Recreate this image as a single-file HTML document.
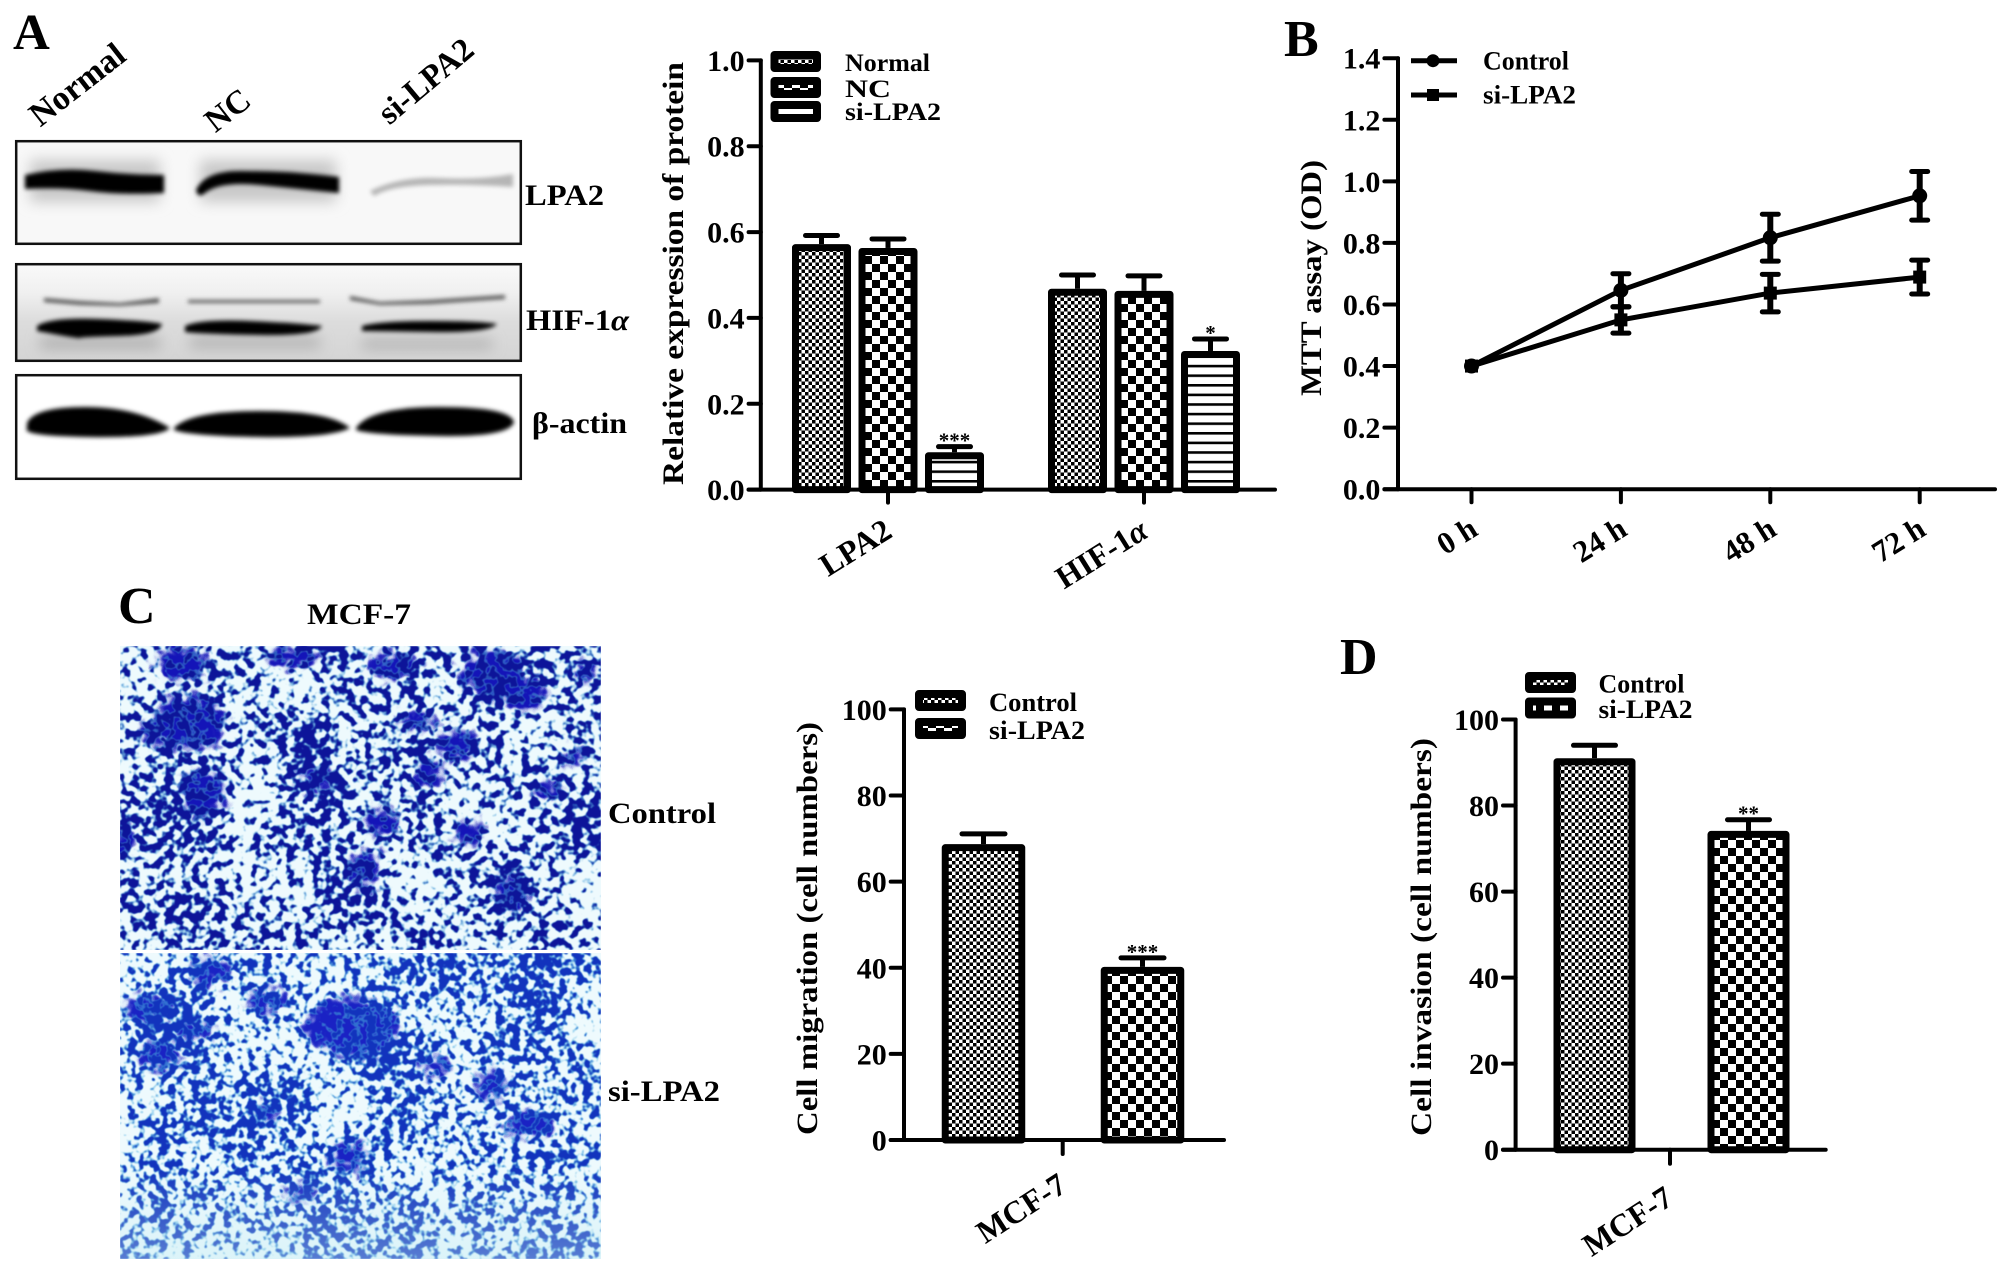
<!DOCTYPE html>
<html lang="en">
<head>
<meta charset="utf-8">
<title>LPA2 knockdown figure</title>
<style>
html,body{margin:0;padding:0;background:#fff;}
svg{display:block;}
text{font-family:"Liberation Serif",serif;font-weight:bold;fill:#000;}
</style>
</head>
<body>
<svg id="fig" width="2008" height="1272" viewBox="0 0 2008 1272" xmlns="http://www.w3.org/2000/svg">
<defs>
  <pattern id="smallCheck" width="7" height="7" patternUnits="userSpaceOnUse"><rect width="7" height="7" fill="#fff"/><rect width="3.5" height="3.5" fill="#000"/><rect x="3.5" y="3.5" width="3.5" height="3.5" fill="#000"/></pattern>
  <pattern id="bigCheck" width="16" height="16" patternUnits="userSpaceOnUse"><rect width="16" height="16" fill="#fff"/><rect width="8" height="8" fill="#000"/><rect x="8" y="8" width="8" height="8" fill="#000"/></pattern>
  <pattern id="stripes" width="10" height="9.6" patternUnits="userSpaceOnUse"><rect width="10" height="9.6" fill="#fff"/><rect y="0" width="10" height="2.6" fill="#000"/></pattern>
  <filter id="b2" x="-20%" y="-60%" width="140%" height="220%"><feGaussianBlur stdDeviation="2.2"/></filter>
  <filter id="b4" x="-20%" y="-100%" width="140%" height="300%"><feGaussianBlur stdDeviation="7"/></filter>
  <filter id="rough" x="-10%" y="-10%" width="120%" height="120%" color-interpolation-filters="sRGB">
    <feGaussianBlur in="SourceGraphic" stdDeviation="3" result="soft"/>
    <feTurbulence type="fractalNoise" baseFrequency="0.09" numOctaves="2" seed="3" result="warp"/>
    <feDisplacementMap in="soft" in2="warp" scale="26" xChannelSelector="R" yChannelSelector="G"/>
  </filter>
  <filter id="cellsA" x="0" y="0" width="100%" height="100%" color-interpolation-filters="sRGB">
    <feTurbulence type="fractalNoise" baseFrequency="0.115" numOctaves="2" seed="11" result="n1"/>
    <feColorMatrix in="n1" type="matrix" values="1 0 0 0 0  1 0 0 0 0  1 0 0 0 0  0 0 0 0 1" result="hi"/>
    <feTurbulence type="fractalNoise" baseFrequency="0.014" numOctaves="2" seed="5" result="n2"/>
    <feColorMatrix in="n2" type="matrix" values="1 0 0 0 0  1 0 0 0 0  1 0 0 0 0  0 0 0 0 1" result="lo"/>
    <feComposite in="hi" in2="lo" operator="arithmetic" k1="0" k2="0.85" k3="0.35" k4="-0.05" result="mix"/>
    <feColorMatrix in="mix" type="matrix" values="0 0 0 0 0.28  0 0 0 0 0.62  0 0 0 0 0.85  12 0 0 0 -6.2" result="fringe"/>
    <feColorMatrix in="mix" type="matrix" values="0 0 0 0 0.05  0 0 0 0 0.08  0 0 0 0 0.60  14 0 0 0 -7.85" result="dark"/>
    <feMerge result="m"><feMergeNode in="fringe"/><feMergeNode in="dark"/></feMerge>
    <feGaussianBlur in="m" stdDeviation="0.6"/>
  </filter>
  <filter id="cellsB" x="0" y="0" width="100%" height="100%" color-interpolation-filters="sRGB">
    <feTurbulence type="fractalNoise" baseFrequency="0.125" numOctaves="2" seed="29" result="n1"/>
    <feColorMatrix in="n1" type="matrix" values="1 0 0 0 0  1 0 0 0 0  1 0 0 0 0  0 0 0 0 1" result="hi"/>
    <feTurbulence type="fractalNoise" baseFrequency="0.014" numOctaves="2" seed="17" result="n2"/>
    <feColorMatrix in="n2" type="matrix" values="1 0 0 0 0  1 0 0 0 0  1 0 0 0 0  0 0 0 0 1" result="lo"/>
    <feComposite in="hi" in2="lo" operator="arithmetic" k1="0" k2="0.85" k3="0.35" k4="-0.05" result="mix"/>
    <feColorMatrix in="mix" type="matrix" values="0 0 0 0 0.30  0 0 0 0 0.68  0 0 0 0 0.88  12 0 0 0 -6.2" result="fringe"/>
    <feColorMatrix in="mix" type="matrix" values="0 0 0 0 0.07  0 0 0 0 0.20  0 0 0 0 0.74  14 0 0 0 -7.85" result="dark"/>
    <feMerge result="m"><feMergeNode in="fringe"/><feMergeNode in="dark"/></feMerge>
    <feGaussianBlur in="m" stdDeviation="0.6"/>
  </filter>
  <clipPath id="clipGel1"><rect x="15" y="140" width="507" height="105"/></clipPath>
  <clipPath id="clipGel2"><rect x="15" y="263" width="507" height="99"/></clipPath>
  <clipPath id="clipGel3"><rect x="15" y="374" width="507" height="106"/></clipPath>
  <clipPath id="clipPhotoA"><rect x="120" y="646" width="481" height="304"/></clipPath>
  <clipPath id="clipPhotoB"><rect x="120" y="953" width="481" height="306"/></clipPath>
  <linearGradient id="fadeCyan" x1="0" y1="0" x2="0" y2="1"><stop offset="0.7" stop-color="#bfe9f2" stop-opacity="0"/><stop offset="1" stop-color="#bfe9f2" stop-opacity="0.4"/></linearGradient>
  <linearGradient id="gelHif" x1="0" y1="0" x2="0" y2="1"><stop offset="0" stop-color="#fafafa"/><stop offset="0.3" stop-color="#f0f0f0"/><stop offset="0.6" stop-color="#dcdcdc"/><stop offset="1" stop-color="#d4d4d4"/></linearGradient>
</defs>

<rect width="2008" height="1272" fill="#fff"/>

<text x="13" y="49" font-size="51">A</text>
<text x="1284" y="56" font-size="52">B</text>
<text x="118" y="623" font-size="52">C</text>
<text x="1340" y="674" font-size="52">D</text>

<text transform="rotate(-38 128 59)" x="128" y="59" font-size="34" text-anchor="end">Normal</text>
<text transform="rotate(-38 253 104)" x="253" y="104" font-size="33" text-anchor="end">NC</text>
<text transform="rotate(-40 476 53)" x="476" y="53" font-size="33" text-anchor="end">si-LPA2</text>

<g>
  <rect x="15" y="140" width="507" height="105" fill="#f8f8f8"/>
  <g clip-path="url(#clipGel1)">
    <g filter="url(#b4)" fill="#c8c8c8"><rect x="30" y="160" width="130" height="42"/><rect x="200" y="160" width="136" height="42"/></g>
    <g filter="url(#b2)">
      <path d="M25 175Q60 167 95 171T164 175L164 193Q120 195 90 191T25 189Z" fill="#000"/>
      <path d="M196 190Q205 171 240 171T300 173T339 177L339 193Q300 189 260 185T205 193Q198 199 196 190Z" fill="#000"/>
      <path d="M370 191Q400 176 440 178T513 174L513 187Q470 184 430 185T374 196Z" fill="#b5b5b5"/>
    </g>
  </g>
  <rect x="16.2" y="141.2" width="504.6" height="102.6" fill="none" stroke="#111" stroke-width="2.5"/>
</g>
<g>
  <rect x="15" y="263" width="507" height="99" fill="url(#gelHif)"/>
  <g clip-path="url(#clipGel2)">
    <g filter="url(#b4)" fill="#a8a8a8"><rect x="40" y="338" width="120" height="10"/><rect x="190" y="338" width="130" height="9"/><rect x="362" y="340" width="130" height="8"/></g>
    <g filter="url(#b2)" fill="#555"><path d="M44 298L80 301L120 303L159 298L159 303L120 306L80 305L44 302Z"/><rect x="188" y="300" width="132" height="3"/><path d="M350 296L380 302L430 300L505 295L505 299L430 304L380 305L350 300Z"/></g>
    <g filter="url(#b2)" fill="#000">
      <path d="M37 326Q50 317 100 319T162 324Q160 335 120 336T80 338T37 331Z"/>
      <path d="M185 326Q200 319 250 321T322 326Q318 336 260 335T185 332Z"/>
      <path d="M362 326Q380 321 430 321T497 324Q490 333 430 332T362 331Z"/>
    </g>
  </g>
  <rect x="16.2" y="264.2" width="504.6" height="96.6" fill="none" stroke="#111" stroke-width="2.5"/>
</g>
<g>
  <rect x="15" y="374" width="507" height="106" fill="#fff"/>
  <g clip-path="url(#clipGel3)">
    <g filter="url(#b2)" fill="#000">
      <path d="M27 423Q34 407 85 407T170 428Q160 438 90 437T27 428Z"/>
      <path d="M174 428Q190 411 260 411T350 428Q330 438 260 437T174 430Z"/>
      <path d="M356 428Q370 407 440 407T514 422Q510 437 440 436T356 430Z"/>
    </g>
  </g>
  <rect x="16.2" y="375.2" width="504.6" height="103.6" fill="none" stroke="#111" stroke-width="2.5"/>
</g>

<text x="525" y="205" font-size="30" textLength="79" lengthAdjust="spacingAndGlyphs">LPA2</text>
<text x="526" y="330" font-size="30" textLength="103" lengthAdjust="spacingAndGlyphs">HIF-1<tspan font-style="italic">α</tspan></text>
<text x="532" y="433" font-size="30" textLength="95" lengthAdjust="spacingAndGlyphs">β-actin</text>

<text x="307" y="624" font-size="30" textLength="104" lengthAdjust="spacingAndGlyphs">MCF-7</text>

<g>
  <rect x="120" y="646" width="481" height="304" fill="#eefafd"/>
  <g clip-path="url(#clipPhotoA)">
    <g fill="#1414b8" filter="url(#rough)">
      <ellipse cx="182" cy="664" rx="26" ry="16"/><ellipse cx="190" cy="722" rx="36" ry="26"/><ellipse cx="161" cy="731" rx="20" ry="14"/>
      <ellipse cx="296" cy="657" rx="28" ry="10"/><ellipse cx="394" cy="666" rx="24" ry="14"/><ellipse cx="492" cy="673" rx="32" ry="24"/>
      <ellipse cx="524" cy="691" rx="22" ry="18"/><ellipse cx="418" cy="722" rx="18" ry="8"/><ellipse cx="316" cy="780" rx="14" ry="12"/>
      <ellipse cx="382" cy="823" rx="16" ry="14"/><ellipse cx="471" cy="834" rx="12" ry="12"/><ellipse cx="365" cy="870" rx="16" ry="18"/>
      <ellipse cx="512" cy="892" rx="18" ry="18"/><ellipse cx="573" cy="758" rx="10" ry="9"/><ellipse cx="549" cy="790" rx="14" ry="8"/>
      <ellipse cx="202" cy="794" rx="22" ry="24"/><ellipse cx="124" cy="839" rx="12" ry="14"/><ellipse cx="459" cy="745" rx="20" ry="14"/>
      <ellipse cx="430" cy="772" rx="14" ry="12"/><ellipse cx="586" cy="673" rx="10" ry="9"/>
    </g>
    <rect x="120" y="646" width="481" height="304" filter="url(#cellsA)"/>
  </g>
</g>
<g>
  <rect x="120" y="953" width="481" height="306" fill="#eefafd"/>
  <g clip-path="url(#clipPhotoB)">
    <g fill="#1a22c4" filter="url(#rough)">
      <ellipse cx="353" cy="1027" rx="46" ry="30"/><ellipse cx="210" cy="971" rx="20" ry="14"/><ellipse cx="149" cy="1009" rx="24" ry="14"/>
      <ellipse cx="267" cy="1000" rx="18" ry="12"/><ellipse cx="161" cy="1054" rx="22" ry="14"/><ellipse cx="435" cy="1067" rx="12" ry="10"/>
      <ellipse cx="492" cy="1085" rx="16" ry="14"/><ellipse cx="267" cy="1112" rx="12" ry="8"/><ellipse cx="349" cy="1157" rx="16" ry="16"/>
      <ellipse cx="529" cy="1125" rx="24" ry="12"/><ellipse cx="300" cy="1192" rx="16" ry="8"/><ellipse cx="194" cy="1031" rx="18" ry="10"/>
    </g>
    <rect x="120" y="953" width="481" height="306" filter="url(#cellsB)"/>
    <rect x="120" y="953" width="481" height="306" fill="url(#fadeCyan)"/>
  </g>
</g>

<text x="608" y="823" font-size="30" textLength="108" lengthAdjust="spacingAndGlyphs">Control</text>
<text x="608" y="1101" font-size="30" textLength="112" lengthAdjust="spacingAndGlyphs">si-LPA2</text>

<text transform="rotate(-90 683 273.5)" x="683" y="273.5" font-size="30" text-anchor="middle" textLength="423" lengthAdjust="spacingAndGlyphs">Relative expression of protein</text>
<text transform="rotate(-90 1321 278)" x="1321" y="278" font-size="30" text-anchor="middle" textLength="236" lengthAdjust="spacingAndGlyphs">MTT assay (OD)</text>
<text transform="rotate(-90 817 928.5)" x="817" y="928.5" font-size="30" text-anchor="middle" textLength="413" lengthAdjust="spacingAndGlyphs">Cell migration (cell numbers)</text>
<text transform="rotate(-90 1431 937)" x="1431" y="937" font-size="30" text-anchor="middle" textLength="398" lengthAdjust="spacingAndGlyphs">Cell invasion (cell numbers)</text>

<g id="charts"></g>
</svg>

<script>
// ---- Panel A bar chart data ----
const aCategories = ['LPA2', 'HIF-1α'];
const aTicks = ['0.0', '0.2', '0.4', '0.6', '0.8', '1.0'];
const aLegend = ['Normal', 'NC', 'si-LPA2'];
const aNormal = [0.572, 0.468];
const aNormalErr = [0.020, 0.032];
const aNC = [0.563, 0.463];
const aNCErr = [0.021, 0.035];
const aSi = [0.087, 0.323];
const aSiErr = [0.013, 0.028];
const aSiStars = ['***', '*'];

// ---- Panel B line chart data ----
const bCategories = ['0 h', '24 h', '48 h', '72 h'];
const bTicks = ['0.0', '0.2', '0.4', '0.6', '0.8', '1.0', '1.2', '1.4'];
const bLegend = ['Control', 'si-LPA2'];
const bControl = [0.40, 0.646, 0.817, 0.953];
const bControlErr = [0, 0.054, 0.076, 0.079];
const bSi = [0.40, 0.55, 0.637, 0.689];
const bSiErr = [0, 0.043, 0.061, 0.055];

// ---- Panel C bar chart data ----
const cCategory = ['MCF-7'];
const cTicks = ['0', '20', '40', '60', '80', '100'];
const cLegend = ['Control', 'si-LPA2'];
const cValues = [68.7, 40.2];
const cErrors = [2.4, 2.1];
const cStars = ['', '***'];

// ---- Panel D bar chart data ----
const dCategory = ['MCF-7'];
const dTicks = ['0', '20', '40', '60', '80', '100'];
const dLegend = ['Control', 'si-LPA2'];
const dValues = [91, 74.1];
const dErrors = [3, 2.6];
const dStars = ['', '**'];

const NS = 'http://www.w3.org/2000/svg';
const root = document.getElementById('charts');

function make(tag, attrs, parent) {
  const n = document.createElementNS(NS, tag);
  for (const k in attrs) n.setAttribute(k, attrs[k]);
  parent.appendChild(n);
  return n;
}
function linear(d0, d1, r0, r1) {
  return function (v) { return r0 + (v - d0) * (r1 - r0) / (d1 - d0); };
}
function drawText(parent, str, x, y, size, anchor, name, angle, lengthPx) {
  const attrs = { x: x, y: y, 'font-size': size, 'text-anchor': anchor };
  if (angle) attrs.transform = 'rotate(' + angle + ' ' + x + ' ' + y + ')';
  if (lengthPx) { attrs.textLength = lengthPx; attrs.lengthAdjust = 'spacingAndGlyphs'; }
  const t = make('text', attrs, parent);
  
  
  const greek = str.indexOf('α');
  if (greek >= 0) {
    t.appendChild(document.createTextNode(str.slice(0, greek)));
    const ts = make('tspan', { 'font-style': 'italic' }, t);
    ts.textContent = 'α';
  } else {
    t.textContent = str;
  }
  return t;
}
function drawAxes(parent, prefix, o) {
  const g = make('g', { stroke: '#000', 'stroke-width': 4, fill: 'none', 'stroke-linecap': 'round' }, parent);
  
  
  const yLine = make('line', { x1: o.axisX, x2: o.axisX, y1: o.y(o.yMax), y2: o.y(0) }, g);
  
  
  const xLine = make('line', { x1: o.tickLeft, x2: o.axisRight, y1: o.y(0), y2: o.y(0) }, g);
  
  
  o.ticks.forEach(function (label) {
    const v = parseFloat(label);
    const tick = make('line', { x1: o.tickLeft, x2: o.axisX, y1: o.y(v), y2: o.y(v) }, g);
    
    
    drawText(parent, label, o.tickLeft - 4, o.y(v) + 10.5, 30, 'end', prefix + '-y-tick-label', 0, 0);
  });
  o.categories.forEach(function (label, i) {
    const cx = o.x(i);
    const tick = make('line', { x1: cx, x2: cx, y1: o.y(0), y2: o.y(0) + o.tickDown }, g);
    
    
    drawText(parent, label, cx + o.labelDx, o.labelY, o.labelSize, 'end', prefix + '-x-tick-label', o.labelAngle, 0);
  });
}
function drawBar(parent, prefix, centerX, barW, value, err, y, patternId, capW, stars) {
  const top = y(value), base = y(0), errTop = y(value + err);
  const eb = make('line', { x1: centerX, x2: centerX, y1: top, y2: errTop, stroke: '#000', 'stroke-width': 5 }, parent);
  
  
  const cap = make('line', { x1: centerX - capW / 2, x2: centerX + capW / 2, y1: errTop, y2: errTop, stroke: '#000', 'stroke-width': 5, 'stroke-linecap': 'round' }, parent);
  
  
  const bar = make('rect', { x: centerX - barW / 2 + 3.5, y: top + 3.5, width: barW - 7, height: base - top - 3.5, fill: 'url(#' + patternId + ')', stroke: '#000', 'stroke-width': 7, 'stroke-linejoin': 'round' }, parent);
  
  
  if (stars) {
    drawText(parent, stars, centerX, errTop + 1, 21, 'middle', prefix + '-significance', 0, 0);
  }
}
function drawSwatch(parent, prefix, x, y, w, h, patternId) {
  const s = make('rect', { x: x + 4, y: y + 4, width: w - 8, height: h - 8, fill: 'url(#' + patternId + ')', stroke: '#000', 'stroke-width': 8, 'stroke-linejoin': 'round' }, parent);
  
  
}

// Panel A
(function () {
  const g = make('g', {}, root);
  
  
  const y = linear(0, 1, 489.6, 60.4);
  const x = function (i) { return 888 + i * 256; };
  const series = [
    [aNormal, aNormalErr, 'smallCheck', -66.5, 'normal'],
    [aNC, aNCErr, 'bigCheck', 0, 'nc'],
    [aSi, aSiErr, 'stripes', 66.5, 'si-lpa2']
  ];
  series.forEach(function (s) {
    s[0].forEach(function (v, i) {
      const stars = s[4] === 'si-lpa2' ? aSiStars[i] : '';
      drawBar(g, 'panel-a-' + s[4], x(i) + s[3], 59, v, s[1][i], y, s[2], 32, stars);
    });
  });
  drawAxes(g, 'panel-a', { axisX: 760.8, tickLeft: 748.6, axisRight: 1275, y: y, yMax: 1, ticks: aTicks, categories: aCategories, x: x, tickDown: 13, labelDx: 6, labelY: 536, labelSize: 32, labelAngle: -32 });
  const swatchY = [51, 77, 101];
  const labelY = [71, 97, 120];
  const widths = [85, 46, 96];
  const pats = ['smallCheck', 'bigCheck', 'stripes'];
  aLegend.forEach(function (name, i) {
    drawSwatch(g, 'panel-a-' + name.toLowerCase(), 770.5, swatchY[i], 50.5, 21, pats[i]);
    drawText(g, name, 845, labelY[i], 25, 'start', 'panel-a-legend-label', 0, widths[i]);
  });
})();

// Panel B
(function () {
  const g = make('g', {}, root);
  
  
  const y = linear(0, 1.4, 489.2, 58.2);
  const x = function (i) { return 1471.5 + i * 149.4; };
  function drawSeries(values, errs, kind, prefix) {
    const pts = values.map(function (v, i) { return x(i) + ',' + y(v); }).join(' ');
    const line = make('polyline', { points: pts, fill: 'none', stroke: '#000', 'stroke-width': 5 }, g);
    
    
    values.forEach(function (v, i) {
      const cx = x(i), cy = y(v), hi = y(v + errs[i]), lo = y(v - errs[i]);
      if (errs[i] > 0) {
        const eb = make('line', { x1: cx, x2: cx, y1: hi, y2: lo, stroke: '#000', 'stroke-width': 6 }, g);
        
        
        [hi, lo].forEach(function (cy2) {
          const cap = make('line', { x1: cx - 8, x2: cx + 8, y1: cy2, y2: cy2, stroke: '#000', 'stroke-width': 5, 'stroke-linecap': 'round' }, g);
          
          
        });
      }
      let m;
      if (kind === 'circle') m = make('circle', { cx: cx, cy: cy, r: 7.5, fill: '#000' }, g);
      else m = make('rect', { x: cx - 6.5, y: cy - 6.5, width: 13, height: 13, fill: '#000' }, g);
      
      
    });
  }
  drawAxes(g, 'panel-b', { axisX: 1398, tickLeft: 1384.4, axisRight: 1995, y: y, yMax: 1.4, ticks: bTicks, categories: bCategories, x: x, tickDown: 13, labelDx: 8, labelY: 534, labelSize: 31, labelAngle: -32 });
  drawSeries(bControl, bControlErr, 'circle', 'panel-b-control');
  drawSeries(bSi, bSiErr, 'square', 'panel-b-si-lpa2');
  const legY = [60.7, 95];
  const legLabelY = [69.6, 103.6];
  const legW = [86, 93];
  bLegend.forEach(function (name, i) {
    const l = make('line', { x1: 1411, x2: 1457, y1: legY[i], y2: legY[i], stroke: '#000', 'stroke-width': 5 }, g);
    
    
    let m;
    if (i === 0) m = make('circle', { cx: 1433, cy: legY[i], r: 6.5, fill: '#000' }, g);
    else m = make('rect', { x: 1427, y: legY[i] - 6, width: 12, height: 12, fill: '#000' }, g);
    
    
    drawText(g, name, 1483, legLabelY[i], 26, 'start', 'panel-b-legend-label', 0, legW[i]);
  });
})();

// Panels C and D
function drawTwoBar(prefix, o) {
  const g = make('g', {}, root);
  
  
  const y = linear(0, 100, o.y0, o.y100);
  const pats = ['smallCheck', 'bigCheck'];
  o.values.forEach(function (v, i) {
    const cx = o.barX + i * o.barStep;
    drawBar(g, prefix + '-' + o.legend[i].toLowerCase(), cx, o.barW, v, o.errors[i], y, pats[i], o.capW, o.stars[i]);
  });
  const xCat = function () { return o.tickX; };
  drawAxes(g, prefix, { axisX: o.axisX, tickLeft: o.tickLeft, axisRight: o.axisRight, y: y, yMax: 100, ticks: o.ticks, categories: o.category, x: xCat, tickDown: 14, labelDx: o.labelDx, labelY: o.labelY, labelSize: 32, labelAngle: -33 });
  o.legend.forEach(function (name, i) {
    drawSwatch(g, prefix + '-' + name.toLowerCase(), o.legX, o.legY[i], o.legWide, 21, pats[i]);
    drawText(g, name, o.legTextX, o.legTextY[i], 26, 'start', prefix + '-legend-label', 0, o.legTextW[i]);
  });
}
drawTwoBar('panel-c', {
  values: cValues, errors: cErrors, stars: cStars, ticks: cTicks, category: cCategory, legend: cLegend,
  y0: 1140, y100: 709.4, axisX: 904, tickLeft: 890.7, axisRight: 1224, tickX: 1062.7,
  barX: 983.5, barStep: 159, barW: 83.5, capW: 43, labelDx: 6, labelY: 1190,
  legX: 915, legWide: 51, legY: [690, 718], legTextX: 989, legTextY: [711, 739], legTextW: [88, 96]
});
drawTwoBar('panel-d', {
  values: dValues, errors: dErrors, stars: dStars, ticks: dTicks, category: dCategory, legend: dLegend,
  y0: 1149.7, y100: 719.5, axisX: 1515.6, tickLeft: 1503, axisRight: 1825.7, tickX: 1670,
  barX: 1594.5, barStep: 154, barW: 82, capW: 42, labelDx: 5, labelY: 1203,
  legX: 1525, legWide: 51, legY: [672, 697.5], legTextX: 1598.5, legTextY: [692.5, 718], legTextW: [86, 94]
});
</script>
</body>
</html>
